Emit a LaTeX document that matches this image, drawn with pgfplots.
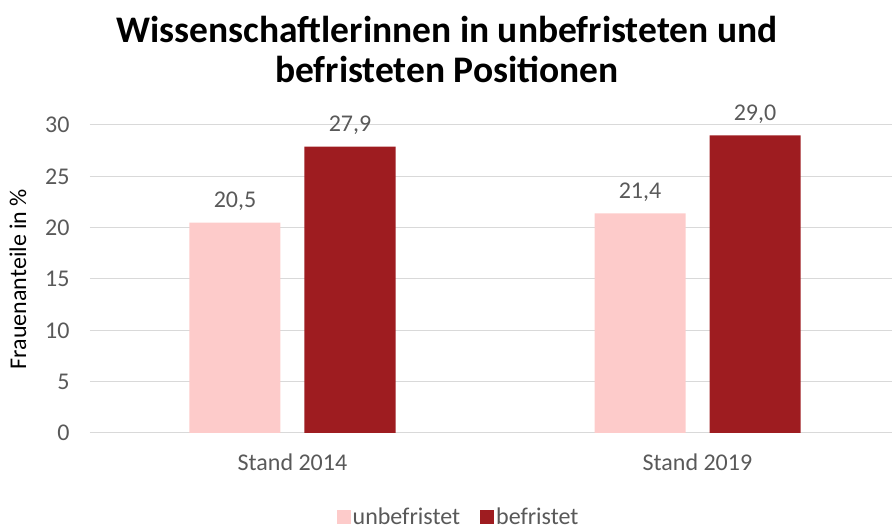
\documentclass[border=0pt]{standalone}
\usepackage{fontspec}
\setmainfont{Carlito}
\usepackage{pgfplots}
\pgfplotsset{compat=1.18}
\definecolor{lightpink}{HTML}{FDCBCA}
\definecolor{darkred}{HTML}{9E1C20}
\definecolor{txtgray}{HTML}{595959}
\definecolor{gridgray}{HTML}{D9D9D9}
\begin{document}
\begin{tikzpicture}
\useasboundingbox (-90pt,-96pt) rectangle (802pt,433pt);
\begin{axis}[
  at={(0pt,0pt)}, anchor=south west,
  scale only axis, width=810pt, height=308pt,
  xmin=-0.5, xmax=1.5, ymin=0, ymax=30,
  ybar, bar width=91pt,
  xtick={0,1}, xticklabels={Stand 2014, Stand 2019},
  ytick={0,5,...,30},
  major tick length=0pt,
  axis x line*=bottom, axis y line*=left,
  y axis line style={draw=none},
  x axis line style={draw=gridgray, line width=1pt},
  ymajorgrids, grid style={draw=gridgray, line width=1pt},
  /pgf/number format/assume math mode=true,
  font=\fontsize{24pt}{28pt}\selectfont,
  ticklabel style={text=txtgray, font=\fontsize{24pt}{28pt}\selectfont},
  yticklabel style={xshift=-17pt},
  xticklabel style={yshift=-17pt},
  every axis y label/.style={at={(axis description cs:-0.0889,0.5)}, rotate=90, anchor=center, text=black, font=\fontsize{24pt}{28pt}\selectfont},
  ylabel={Frauenanteile in \%},
  clip=false,
  nodes near coords,
  nodes near coords style={text=txtgray, yshift=8pt, font=\fontsize{24pt}{28pt}\selectfont,
    /pgf/number format/.cd, fixed, fixed zerofill, precision=1, use comma, assume math mode=true},
  legend style={at={(0.455,-0.273)}, anchor=center, draw=none, legend columns=2,
    font=\fontsize{24pt}{28pt}\selectfont, text=txtgray,
    /tikz/every even column/.append style={column sep=18pt}},
  legend image code/.code={\fill[#1] (0pt,-7pt) rectangle (14pt,7pt);},
]
\addplot[fill=lightpink, draw=none, bar shift=-57.5pt] coordinates {(0,20.5) (1,21.4)};
\addplot[fill=darkred, draw=none, bar shift=57.5pt] coordinates {(0,27.9) (1,29.0)};
\legend{unbefristet, befristet}
\end{axis}
\node[align=center, font=\fontsize{37.5pt}{40pt}\selectfont\bfseries] at (357pt,384pt)
  {Wissenschaftlerinnen in unbefristeten und\\befristeten Positionen};
\end{tikzpicture}
\end{document}
